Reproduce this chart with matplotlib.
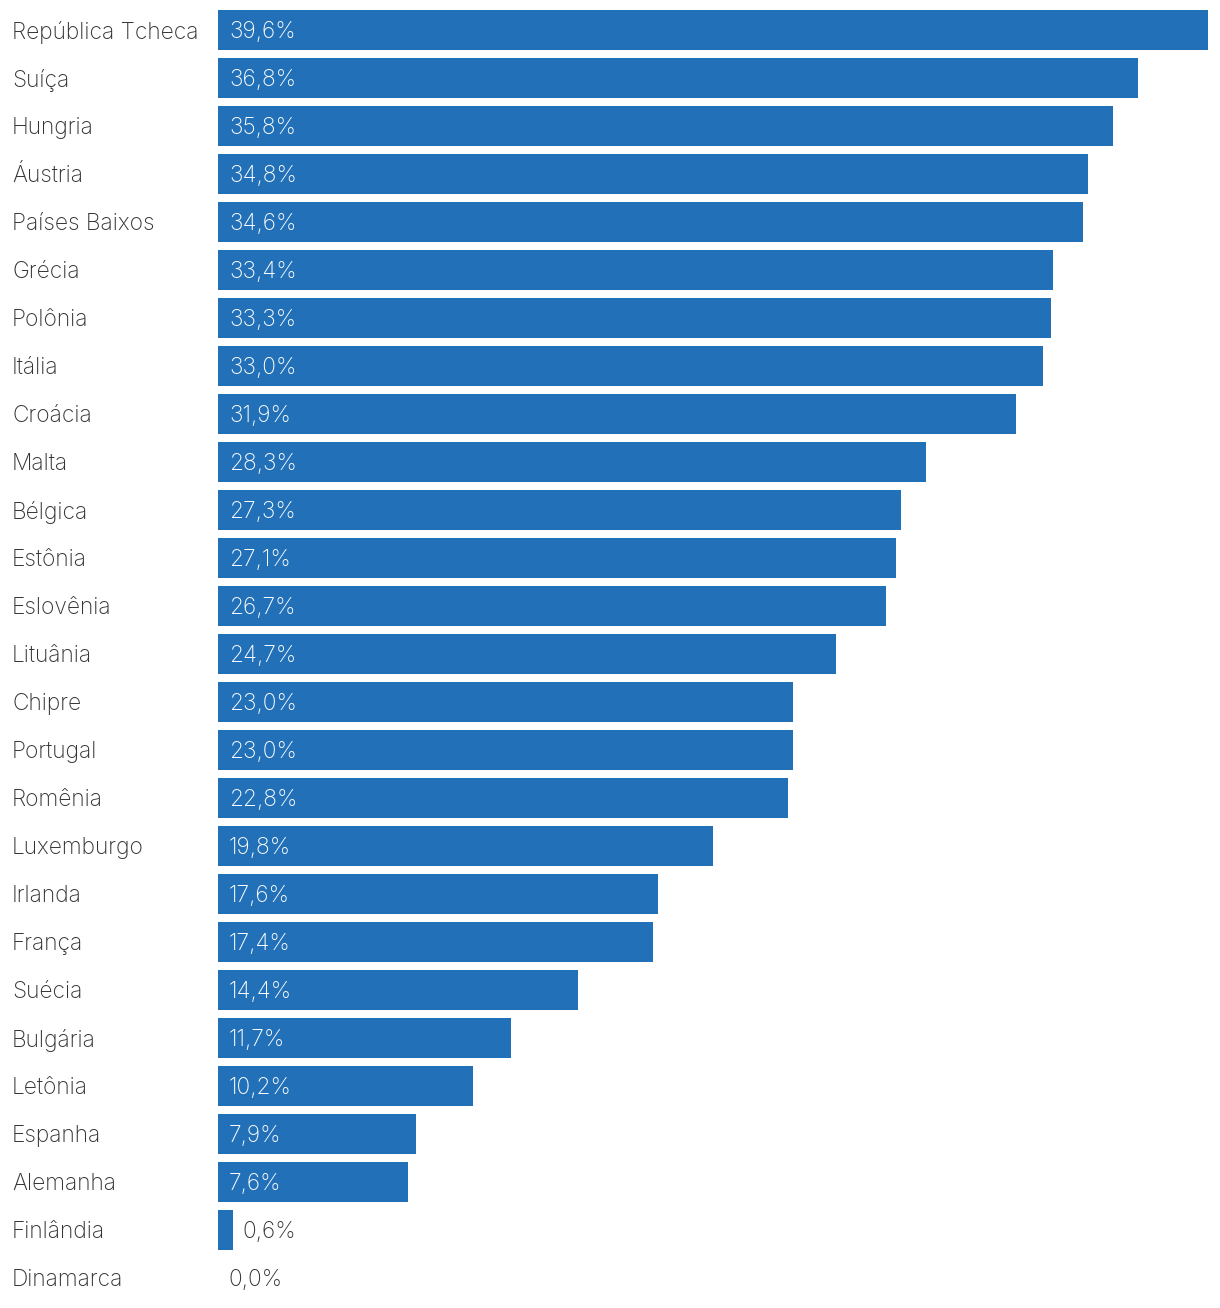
import matplotlib.pyplot as plt

countries = ["República Tcheca", "Suíça", "Hungria", "Áustria", "Países Baixos", "Grécia",
             "Polônia", "Itália", "Croácia", "Malta", "Bélgica", "Estônia", "Eslovênia",
             "Lituânia", "Chipre", "Portugal", "Romênia", "Luxemburgo", "Irlanda", "França",
             "Suécia", "Bulgária", "Letônia", "Espanha", "Alemanha", "Finlândia", "Dinamarca"]
values = [39.6, 36.8, 35.8, 34.8, 34.6, 33.4, 33.3, 33.0, 31.9, 28.3, 27.3, 27.1, 26.7,
          24.7, 23.0, 23.0, 22.8, 19.8, 17.6, 17.4, 14.4, 11.7, 10.2, 7.9, 7.6, 0.6, 0.0]

W, H = 1220, 1308
bar_color = "#2270b8"
text_color = "#333333"
font = ["Inter", "DejaVu Sans"]
fs = 16.4
weight = "light"
dy = -1.5  # nudge text down a little, in points

fig = plt.figure(figsize=(W / 100, H / 100), dpi=100)
ax = fig.add_axes([218 / W, 1 - 1302 / H, 990 / W, 1296 / H])

ypos = list(range(len(countries)))
ax.barh(ypos, values, height=40 / 48, color=bar_color)
ax.set_xlim(0, max(values))
ax.set_ylim(len(countries) - 0.5, -0.5)
ax.axis("off")

for y, name, v in zip(ypos, countries, values):
    ax.annotate(name, xy=(0, y), xycoords=("axes fraction", "data"),
                xytext=(-(218 - 12) * 0.72, dy), textcoords="offset points",
                ha="left", va="center", fontsize=fs, color=text_color,
                family=font, fontweight=weight)
    label = f"{v:.1f}%".replace(".", ",")
    if v >= 2:
        ax.annotate(label, xy=(0, y), xytext=(11 * 0.72, dy), textcoords="offset points",
                    ha="left", va="center", fontsize=fs, color="white",
                    family=font, fontweight=weight)
    else:
        ax.annotate(label, xy=(v, y), xytext=(10 * 0.72, dy), textcoords="offset points",
                    ha="left", va="center", fontsize=fs, color=text_color,
                    family=font, fontweight=weight)

fig.savefig("out.png", dpi=100)
